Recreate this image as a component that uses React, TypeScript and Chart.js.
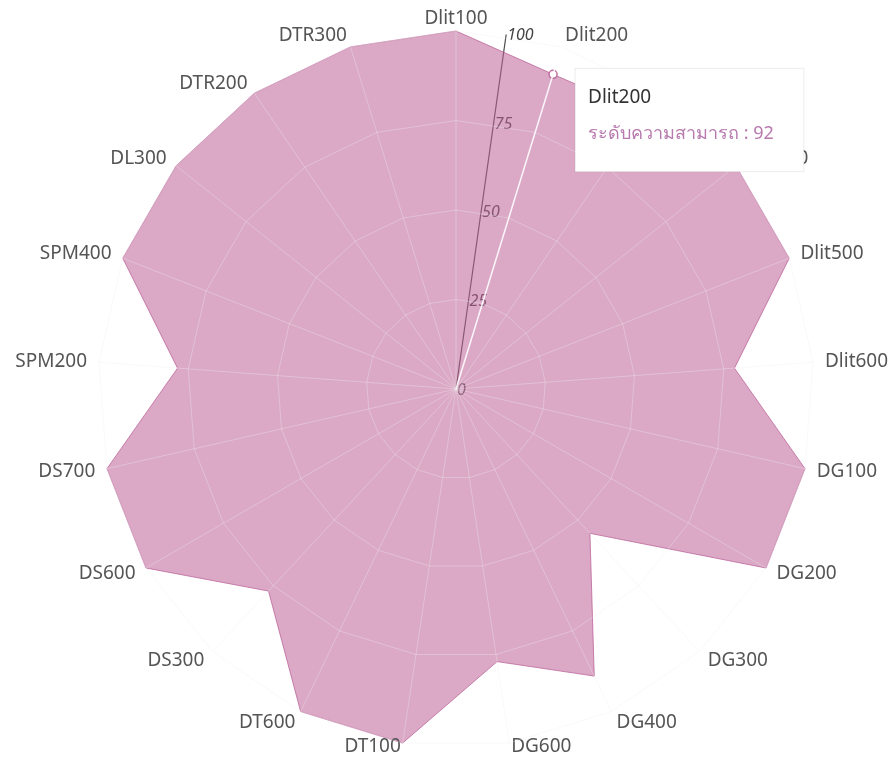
import React, { useEffect, useRef } from 'react';
import { Chart, registerables, Tooltip } from 'chart.js';

Chart.register(...registerables);

const labels = [
  'Dlit100', 'Dlit200', 'Dlit300', 'Dlit400', 'Dlit500', 'Dlit600',
  'DG100', 'DG200', 'DG300', 'DG400', 'DG600', 'DT100', 'DT600',
  'DS300', 'DS600', 'DS700', 'SPM200', 'SPM400', 'DL300', 'DTR200', 'DTR300',
];
const values = [100, 92, 93, 100, 100, 78, 100, 100, 55, 89, 77, 100, 100, 77, 100, 100, 78, 100, 100, 100, 100];
const tickValues = [0, 25, 50, 75, 100];
const seriesLabel = 'ระดับความสามารถ';
const highlightIndex = 1;

const FONT = '"Noto Sans", "Open Sans", sans-serif';

(Tooltip as any).positioners.offsetPoint = function (items: any[]) {
  if (!items.length) return false;
  const el = items[0].element;
  return { x: el.x + 22, y: el.y - 6 };
};

const tickAxisPlugin = {
  id: 'tickAxis',
  beforeDatasetsDraw(chart: any) {
    const scale = chart.scales.r;
    const ctx = chart.ctx;
    const axisIndex = 0.47;
    const start = scale.getPointPosition(axisIndex, 0);
    const end = scale.getPointPosition(axisIndex, scale.drawingArea);
    ctx.save();
    ctx.strokeStyle = '#4a4a4a';
    ctx.lineWidth = 1.2;
    ctx.beginPath();
    ctx.moveTo(start.x, start.y);
    ctx.lineTo(end.x, end.y);
    ctx.stroke();
    ctx.font = `italic 16px ${FONT}`;
    ctx.fillStyle = '#444';
    ctx.textAlign = 'left';
    ctx.textBaseline = 'middle';
    tickValues.forEach((v) => {
      const p = scale.getPointPosition(axisIndex, scale.getDistanceFromCenterForValue(v));
      ctx.fillText(String(v), p.x + 1, p.y + 1);
    });
    ctx.restore();
  },
};

const pointLabelPlugin = {
  id: 'pointLabelsCustom',
  afterDatasetsDraw(chart: any) {
    const scale = chart.scales.r;
    const ctx = chart.ctx;
    const n = labels.length;
    ctx.save();
    ctx.font = `19px ${FONT}`;
    ctx.fillStyle = '#555555';
    ctx.textBaseline = 'middle';
    labels.forEach((lab, i) => {
      const p = scale.getPointPosition(i, scale.drawingArea + 12);
      const deg = ((i * 360) / n) % 360;
      let align: CanvasTextAlign = 'center';
      if (deg > 2 && deg < 178) align = 'left';
      else if (deg > 182 && deg < 358) align = 'right';
      ctx.textAlign = align;
      const y = Math.min(p.y, chart.height - 13);
      ctx.fillText(lab, p.x, y);
    });
    ctx.restore();
  },
};

export default function App() {
  const ref = useRef<HTMLCanvasElement | null>(null);
  useEffect(() => {
    document.body.style.margin = '0';
    const canvas = ref.current;
    if (!canvas) return;
    const chart = new Chart(canvas, {
      type: 'radar',
      data: {
        labels,
        datasets: [
          {
            label: seriesLabel,
            data: values,
            backgroundColor: 'rgba(190, 97, 151, 0.55)',
            borderColor: 'rgba(185, 95, 150, 0.75)',
            borderWidth: 1,
            fill: true,
            pointRadius: (c: any) => (c.dataIndex === highlightIndex ? 4 : 0),
            pointHoverRadius: (c: any) => (c.dataIndex === highlightIndex ? 4 : 0),
            pointBackgroundColor: '#ffffff',
            pointHoverBackgroundColor: '#ffffff',
            pointBorderColor: 'rgba(185, 95, 150, 0.9)',
            pointHoverBorderColor: 'rgba(185, 95, 150, 0.9)',
            pointBorderWidth: 1.5,
            pointHoverBorderWidth: 1.5,
          },
        ],
      },
      options: {
        responsive: false,
        animation: false,
        events: [],
        layout: { padding: { left: 98, right: 80, top: 31, bottom: 13 } },
        plugins: {
          legend: { display: false },
          tooltip: {
            enabled: true,
            position: 'offsetPoint' as any,
            xAlign: 'left',
            yAlign: 'top',
            backgroundColor: '#ffffff',
            borderColor: 'rgba(0,0,0,0.08)',
            borderWidth: 1,
            titleColor: '#333333',
            titleFont: { family: FONT, size: 19, weight: 'normal' as any },
            bodyColor: '#b77aae',
            bodyFont: { family: FONT, size: 18 },
            padding: { top: 18, bottom: 27, left: 13, right: 30 },
            titleMarginBottom: 14,
            caretSize: 0,
            caretPadding: 0,
            cornerRadius: 0,
            displayColors: false,
            callbacks: {
              label: (c: any) => `${c.dataset.label} : ${c.raw}`,
            },
          },
        },
        scales: {
          r: {
            min: 0,
            max: 100,
            ticks: { display: false, stepSize: 25 },
            grid: {
              z: 1,
              color: 'rgba(238,238,238,0.35)',
              lineWidth: 1,
            },
            angleLines: {
              color: (c: any) => (c.index === highlightIndex ? 'rgba(255,255,255,0.9)' : 'rgba(238,238,238,0.35)'),
              lineWidth: (c: any) => (c.index === highlightIndex ? 1.5 : 1),
            },
            pointLabels: { display: false },
          },
        },
      },
      plugins: [tickAxisPlugin, pointLabelPlugin],
    });
    const active = [{ datasetIndex: 0, index: highlightIndex }];
    chart.setActiveElements(active);
    chart.tooltip!.setActiveElements(active, { x: 0, y: 0 });
    chart.update();
    return () => chart.destroy();
  }, []);
  return (
    <div style={{ width: 894, height: 760 }}>
      <canvas ref={ref} width={894} height={760} />
    </div>
  );
}
